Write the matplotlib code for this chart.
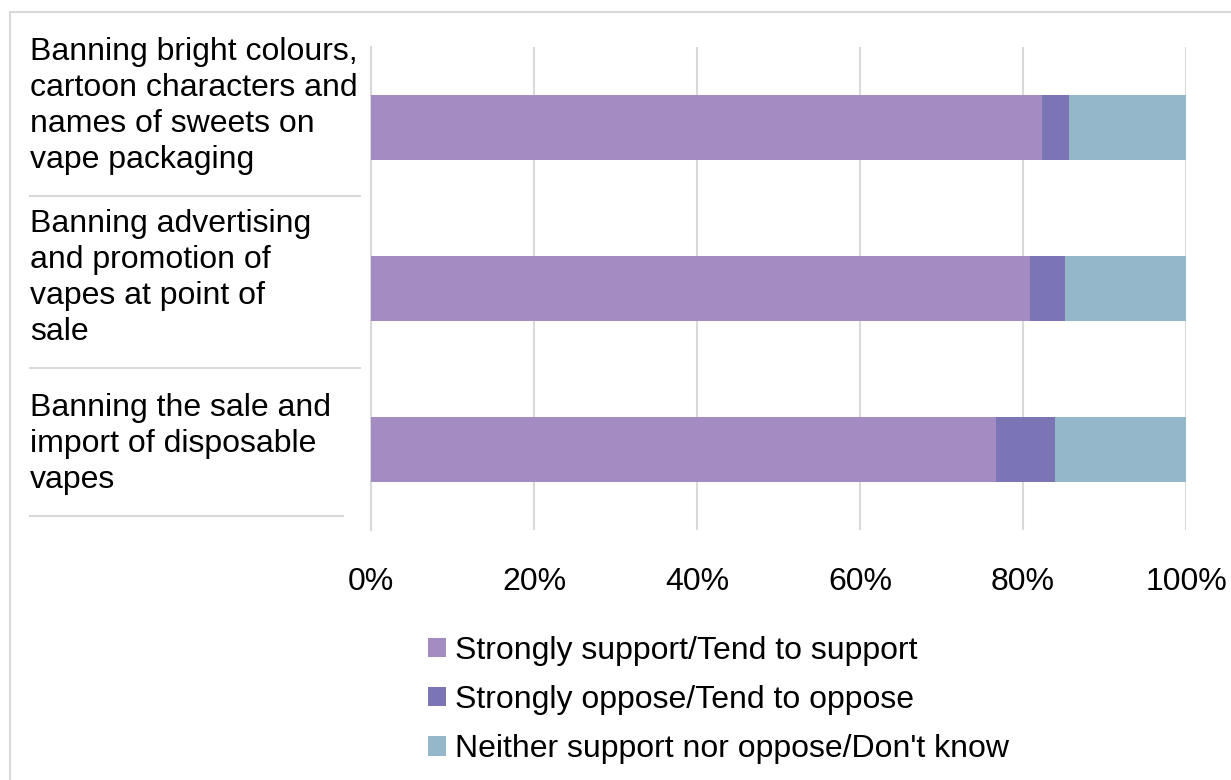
import matplotlib.pyplot as plt
from matplotlib.patches import Rectangle
from matplotlib.lines import Line2D

plt.rcParams['font.family'] = ['Liberation Sans', 'DejaVu Sans']

measures = [
    'Banning bright colours,\ncartoon characters and\nnames of sweets on\nvape packaging',
    'Banning advertising\nand promotion of\nvapes at point of\nsale',
    'Banning the sale and\nimport of disposable\nvapes',
]
series = [
    'Strongly support/Tend to support',
    'Strongly oppose/Tend to oppose',
    "Neither support nor oppose/Don't know",
]
support = [82.3, 80.9, 76.7]
oppose = [3.3, 4.3, 7.2]
neither = [14.4, 14.8, 16.1]
colors = ['#A48BC1', '#7B74B5', '#94B7C9']
ticks = [0, 20, 40, 60, 80, 100]

FS = 23
W, H = 1231, 780
fig = plt.figure(figsize=(W / 100, H / 100), dpi=100)
ax = fig.add_axes([371 / W, 1 - 530 / H, (1186 - 371) / W, (530 - 47) / H])

ypos = list(range(len(measures)))
left = [0] * len(measures)
handles = []
for vals, name, c in zip([support, oppose, neither], series, colors):
    b = ax.barh(ypos, vals, left=left, height=0.4, color=c, label=name, zorder=3)
    handles.append(b)
    left = [l + v for l, v in zip(left, vals)]

ax.set_xlim(0, 100)
ax.set_ylim(2.5, -0.5)
ax.set_xticks(ticks)
ax.set_xticklabels([f'{t}%' for t in ticks], fontsize=FS)
ax.set_yticks([])
ax.tick_params(axis='x', length=0, pad=27)
ax.xaxis.grid(True, color='#D9D9D9', linewidth=1.5, zorder=0)
for s in ['top', 'right', 'bottom']:
    ax.spines[s].set_visible(False)
ax.spines['left'].set_color('#D9D9D9')
ax.spines['left'].set_linewidth(1.5)

# category labels on the left with separators under each one
label_y = [106, 278, 444]
for txt, y in zip(measures, label_y):
    fig.text(30 / W, 1 - y / H, txt, fontsize=FS, ha='left', va='center',
             linespacing=1.27)
for y, x1 in [(196, 360), (368, 360), (516, 343)]:
    fig.add_artist(Line2D([30 / W, x1 / W], [1 - y / H, 1 - y / H],
                          color='#D9D9D9', linewidth=1.5))

fig.legend(handles=handles, loc='upper left',
           bbox_to_anchor=(428 / W, 1 - 636 / H), frameon=False, fontsize=FS,
           handlelength=0.55, handleheight=0.55, handletextpad=0.3,
           labelspacing=0.6, borderpad=0, borderaxespad=0)

# outer chart frame
fig.add_artist(Rectangle((10 / W, -0.05), 1.2, 1 - 12 / H + 0.05,
                         transform=fig.transFigure, fill=False,
                         edgecolor='#D9D9D9', linewidth=1.5))

fig.savefig('out.png', dpi=100)
